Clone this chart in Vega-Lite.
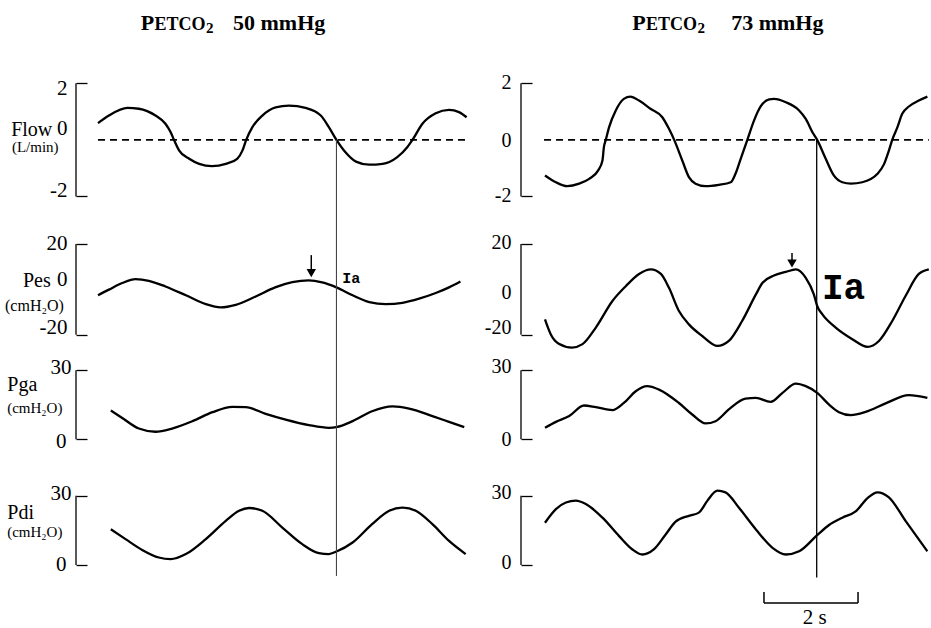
{
"$schema": "https://vega.github.io/schema/vega-lite/v6.json",
"padding": {"left": 5, "top": 11, "right": 0, "bottom": 0},
"background": "white",
"config": {
  "view": {"stroke": null},
  "font": "Liberation Serif",
  "axis": {"labelFont": "Liberation Serif", "labelColor": "black", "grid": false, "domain": false, "tickColor": "black", "tickWidth": 1.3, "tickSize": -11, "labelBaseline": "middle", "labelOverlap": false},
  "line": {"color": "black", "strokeWidth": 2.3, "interpolate": "monotone"},
  "rule": {"color": "black", "strokeWidth": 1.3},
  "text": {"font": "Liberation Serif", "color": "black", "baseline": "alphabetic"}
},
"datasets": {
  "flowL": [{"t":0,"v":0.59},{"t":0.23,"v":0.86},{"t":0.62,"v":1.13},{"t":0.86,"v":1.10},{"t":1.21,"v":0.86},{"t":1.42,"v":0.57},{"t":1.53,"v":0.27},{"t":1.60,"v":0},{"t":1.71,"v":-0.38},{"t":1.92,"v":-0.67},{"t":2.13,"v":-0.85},{"t":2.40,"v":-0.93},{"t":2.69,"v":-0.85},{"t":2.93,"v":-0.67},{"t":3.04,"v":-0.38},{"t":3.12,"v":0},{"t":3.25,"v":0.45},{"t":3.46,"v":0.86},{"t":3.74,"v":1.15},{"t":4.02,"v":1.21},{"t":4.37,"v":1.13},{"t":4.69,"v":0.86},{"t":4.86,"v":0.45},{"t":5.02,"v":0},{"t":5.21,"v":-0.44},{"t":5.43,"v":-0.77},{"t":5.71,"v":-0.88},{"t":5.99,"v":-0.85},{"t":6.30,"v":-0.61},{"t":6.51,"v":-0.26},{"t":6.62,"v":0},{"t":6.83,"v":0.57},{"t":7.11,"v":0.94},{"t":7.39,"v":1.06},{"t":7.60,"v":0.98},{"t":7.76,"v":0.80}],
  "pesL": [{"t":0,"v":-2.6},{"t":0.23,"v":-0.1},{"t":0.51,"v":2.8},{"t":0.79,"v":4.5},{"t":1.07,"v":3.8},{"t":1.42,"v":1.3},{"t":1.85,"v":-2.6},{"t":2.27,"v":-6.5},{"t":2.58,"v":-7.9},{"t":2.90,"v":-6.8},{"t":3.32,"v":-3.1},{"t":3.73,"v":0.9},{"t":4.09,"v":3.2},{"t":4.44,"v":4.0},{"t":4.72,"v":3.1},{"t":5.02,"v":0.9},{"t":5.36,"v":-2.6},{"t":5.71,"v":-5.6},{"t":6.06,"v":-6.5},{"t":6.41,"v":-5.9},{"t":6.76,"v":-4.1},{"t":7.11,"v":-1.6},{"t":7.39,"v":0.9},{"t":7.63,"v":3.5}],
  "pgaL": [{"t":0.27,"v":12.5},{"t":0.51,"v":9.3},{"t":0.86,"v":4.7},{"t":1.21,"v":3.3},{"t":1.56,"v":4.7},{"t":1.99,"v":7.9},{"t":2.41,"v":11.8},{"t":2.83,"v":14.1},{"t":3.11,"v":14.0},{"t":3.53,"v":11.1},{"t":3.95,"v":8.6},{"t":4.44,"v":6.2},{"t":4.86,"v":5.0},{"t":5.02,"v":5.3},{"t":5.36,"v":7.9},{"t":5.77,"v":12.2},{"t":6.20,"v":14.3},{"t":6.55,"v":13.4},{"t":7.04,"v":10.1},{"t":7.39,"v":7.6},{"t":7.71,"v":5.3}],
  "pdiL": [{"t":0.27,"v":15.5},{"t":0.58,"v":11.2},{"t":0.93,"v":6.5},{"t":1.28,"v":3.2},{"t":1.53,"v":2.5},{"t":1.85,"v":4.7},{"t":2.27,"v":11.2},{"t":2.69,"v":19.1},{"t":2.97,"v":23.5},{"t":3.18,"v":24.7},{"t":3.46,"v":23.5},{"t":3.88,"v":16.2},{"t":4.30,"v":9.0},{"t":4.65,"v":5.1},{"t":4.86,"v":4.7},{"t":5.02,"v":5.8},{"t":5.36,"v":9.7},{"t":5.77,"v":17.7},{"t":6.13,"v":23.5},{"t":6.41,"v":24.9},{"t":6.69,"v":23.5},{"t":7.04,"v":17.7},{"t":7.39,"v":10.4},{"t":7.74,"v":4.7}],
  "flowR": [{"t":0,"v":-1.26},{"t":0.23,"v":-1.50},{"t":0.47,"v":-1.64},{"t":0.72,"v":-1.55},{"t":0.93,"v":-1.38},{"t":1.12,"v":-1.08},{"t":1.21,"v":-0.73},{"t":1.24,"v":-0.26},{"t":1.28,"v":0},{"t":1.35,"v":0.45},{"t":1.49,"v":1.04},{"t":1.66,"v":1.45},{"t":1.80,"v":1.53},{"t":1.98,"v":1.39},{"t":2.22,"v":1.10},{"t":2.47,"v":0.80},{"t":2.61,"v":0.39},{"t":2.72,"v":0},{"t":2.89,"v":-0.73},{"t":3.03,"v":-1.32},{"t":3.17,"v":-1.55},{"t":3.38,"v":-1.64},{"t":3.66,"v":-1.59},{"t":3.91,"v":-1.50},{"t":4.01,"v":-1.20},{"t":4.12,"v":-0.67},{"t":4.26,"v":0},{"t":4.40,"v":0.68},{"t":4.54,"v":1.18},{"t":4.72,"v":1.43},{"t":4.82,"v":1.45},{"t":5.07,"v":1.33},{"t":5.35,"v":1.04},{"t":5.49,"v":0.74},{"t":5.63,"v":0.27},{"t":5.73,"v":0},{"t":5.91,"v":-0.67},{"t":6.08,"v":-1.26},{"t":6.26,"v":-1.50},{"t":6.44,"v":-1.55},{"t":6.68,"v":-1.50},{"t":7.00,"v":-1.20},{"t":7.14,"v":-0.85},{"t":7.24,"v":-0.38},{"t":7.31,"v":0},{"t":7.42,"v":0.45},{"t":7.52,"v":0.92},{"t":7.66,"v":1.18},{"t":7.87,"v":1.39},{"t":8.05,"v":1.53}],
  "pesR": [{"t":0,"v":-13.2},{"t":0.12,"v":-19.7},{"t":0.29,"v":-23.9},{"t":0.57,"v":-25.6},{"t":0.79,"v":-24.1},{"t":1.07,"v":-16.8},{"t":1.42,"v":-5.1},{"t":1.70,"v":1.4},{"t":1.98,"v":6.8},{"t":2.23,"v":8.8},{"t":2.44,"v":6.8},{"t":2.61,"v":0.7},{"t":2.82,"v":-9.5},{"t":3.03,"v":-15.4},{"t":3.31,"v":-20.5},{"t":3.63,"v":-24.9},{"t":3.87,"v":-22.7},{"t":4.15,"v":-13.9},{"t":4.44,"v":-2.2},{"t":4.58,"v":2.9},{"t":4.82,"v":6.1},{"t":5.07,"v":7.7},{"t":5.28,"v":8.8},{"t":5.49,"v":5.1},{"t":5.66,"v":-2.2},{"t":5.73,"v":-7.3},{"t":5.84,"v":-11.0},{"t":6.12,"v":-16.8},{"t":6.47,"v":-21.9},{"t":6.79,"v":-25.3},{"t":7.03,"v":-22.7},{"t":7.31,"v":-13.9},{"t":7.59,"v":-2.9},{"t":7.87,"v":6.8},{"t":8.08,"v":8.8}],
  "pgaR": [{"t":0,"v":5.0},{"t":0.23,"v":7.6},{"t":0.51,"v":10.1},{"t":0.82,"v":14.7},{"t":1.07,"v":14.0},{"t":1.42,"v":12.7},{"t":1.66,"v":15.8},{"t":1.91,"v":20.9},{"t":2.15,"v":23.1},{"t":2.40,"v":21.6},{"t":2.82,"v":15.8},{"t":3.10,"v":10.8},{"t":3.38,"v":6.9},{"t":3.59,"v":7.9},{"t":3.87,"v":13.0},{"t":4.22,"v":17.7},{"t":4.44,"v":18.0},{"t":4.75,"v":16.3},{"t":5.00,"v":20.2},{"t":5.28,"v":24.2},{"t":5.49,"v":23.1},{"t":5.73,"v":20.2},{"t":5.98,"v":15.1},{"t":6.19,"v":11.8},{"t":6.44,"v":10.5},{"t":6.75,"v":11.9},{"t":7.17,"v":15.6},{"t":7.66,"v":19.2},{"t":8.05,"v":18.0}],
  "pdiR": [{"t":0,"v":18.3},{"t":0.23,"v":24.2},{"t":0.44,"v":27.1},{"t":0.65,"v":27.9},{"t":0.86,"v":26.4},{"t":1.21,"v":20.5},{"t":1.56,"v":12.5},{"t":1.84,"v":6.7},{"t":2.05,"v":4.5},{"t":2.29,"v":6.7},{"t":2.54,"v":13.2},{"t":2.75,"v":18.8},{"t":3.03,"v":21.3},{"t":3.24,"v":22.7},{"t":3.42,"v":27.9},{"t":3.63,"v":32.2},{"t":3.80,"v":31.5},{"t":4.08,"v":24.9},{"t":4.44,"v":15.4},{"t":4.79,"v":7.4},{"t":5.07,"v":4.5},{"t":5.35,"v":5.9},{"t":5.73,"v":12.9},{"t":5.98,"v":17.3},{"t":6.26,"v":20.5},{"t":6.54,"v":23.2},{"t":6.79,"v":29.0},{"t":7.00,"v":31.5},{"t":7.24,"v":29.3},{"t":7.59,"v":19.1},{"t":8.05,"v":5.9}]
},
"columns": 2,
"spacing": {"row": 0, "column": 37},
"bounds": "flush",
"align": "each",
"concat": [
 {"width": 408, "height": 147, "layer": [
   {"data": {"name": "flowL"}, "mark": {"type": "line"},
    "encoding": {"x": {"field": "t", "type": "quantitative", "scale": {"domain": [-0.463, 8.126], "nice": false, "zero": false}, "axis": null},
                 "y": {"field": "v", "type": "quantitative", "scale": {"domain": [-2.8, 2.4], "nice": false, "zero": false},
                       "axis": {"title": null, "values": [-2, 0, 2], "labelExpr": "'' + datum.value", "labelFontSize": 21, "labelPadding": 20,
                                "tickOpacity": {"condition": {"test": "datum.value === 0", "value": 0}, "value": 1},
                                "labelOffset": {"condition": [{"test": "datum.value === 2", "value": 5}, {"test": "datum.value === 0", "value": -11}], "value": -6}}}}},
   {"data": {"values": [{}]}, "mark": {"type": "rule", "strokeDash": [7, 5], "strokeWidth": 1.8},
    "encoding": {"x": {"datum": 0, "type": "quantitative", "axis": null}, "x2": {"datum": 7.77}, "y": {"datum": 0, "type": "quantitative"}}},
   {"data": {"values": [{}]}, "mark": {"type": "rule"},
    "encoding": {"x": {"datum": -0.463, "type": "quantitative", "axis": null}, "y": {"datum": -2, "type": "quantitative"}, "y2": {"datum": 2}}},
   {"data": {"values": [{}]}, "mark": {"type": "rule", "strokeWidth": 1.1, "color": "#444"},
    "encoding": {"x": {"datum": 5.02, "type": "quantitative", "axis": null}, "y": {"datum": 0, "type": "quantitative"}, "y2": {"datum": -2.8}}},
   {"data": {"values": [{}]}, "mark": {"type": "text", "text": "Flow", "align": "right", "fontSize": 20},
    "encoding": {"x": {"datum": -0.962, "type": "quantitative", "axis": null}, "y": {"datum": 0.136, "type": "quantitative"}}},
   {"data": {"values": [{}]}, "mark": {"type": "text", "text": "(L/min)", "align": "center", "fontSize": 15},
    "encoding": {"x": {"datum": -1.32, "type": "quantitative", "axis": null}, "y": {"datum": -0.42, "type": "quantitative"}}},
   {"data": {"values": [{}]}, "mark": {"type": "text", "text": "P", "align": "left", "fontSize": 22, "fontWeight": "bold"},
    "encoding": {"x": {"datum": 0.899, "type": "quantitative", "axis": null}, "y": {"datum": 3.886, "type": "quantitative"}}},
   {"data": {"values": [{}]}, "mark": {"type": "text", "text": "ETCO", "align": "left", "fontSize": 18, "fontWeight": "bold"},
    "encoding": {"x": {"datum": 1.189, "type": "quantitative", "axis": null}, "y": {"datum": 3.886, "type": "quantitative"}}},
   {"data": {"values": [{}]}, "mark": {"type": "text", "text": "2", "align": "left", "fontSize": 15, "fontWeight": "bold"},
    "encoding": {"x": {"datum": 2.274, "type": "quantitative", "axis": null}, "y": {"datum": 3.78, "type": "quantitative"}}},
   {"data": {"values": [{}]}, "mark": {"type": "text", "text": "50 mmHg", "align": "left", "fontSize": 22, "fontWeight": "bold"},
    "encoding": {"x": {"datum": 2.842, "type": "quantitative", "axis": null}, "y": {"datum": 3.886, "type": "quantitative"}}}
 ]},
 {"width": 408, "height": 147, "layer": [
   {"data": {"name": "flowR"}, "mark": {"type": "line"},
    "encoding": {"x": {"field": "t", "type": "quantitative", "scale": {"domain": [-0.505, 8.084], "nice": false, "zero": false}, "axis": null},
                 "y": {"field": "v", "type": "quantitative", "scale": {"domain": [-2.8, 2.4], "nice": false, "zero": false},
                       "axis": {"title": null, "values": [-2, 0, 2], "labelExpr": "'' + datum.value", "labelFontSize": 20, "labelPadding": 21,
                                "tickOpacity": {"condition": {"test": "datum.value === 0", "value": 0}, "value": 1},
                                "labelOffset": {"condition": [{"test": "datum.value === 2", "value": -1}, {"test": "datum.value === 0", "value": 1}], "value": -1}}}}},
   {"data": {"values": [{}]}, "mark": {"type": "rule", "strokeDash": [7, 5], "strokeWidth": 1.8},
    "encoding": {"x": {"datum": -0.02, "type": "quantitative", "axis": null}, "x2": {"datum": 8.08}, "y": {"datum": 0, "type": "quantitative"}}},
   {"data": {"values": [{}]}, "mark": {"type": "rule"},
    "encoding": {"x": {"datum": -0.505, "type": "quantitative", "axis": null}, "y": {"datum": -2, "type": "quantitative"}, "y2": {"datum": 2}}},
   {"data": {"values": [{}]}, "mark": {"type": "rule", "strokeWidth": 1.3},
    "encoding": {"x": {"datum": 5.72, "type": "quantitative", "axis": null}, "y": {"datum": 0, "type": "quantitative"}, "y2": {"datum": -2.8}}},
   {"data": {"values": [{}]}, "mark": {"type": "text", "text": "P", "align": "left", "fontSize": 22, "fontWeight": "bold"},
    "encoding": {"x": {"datum": 1.838, "type": "quantitative", "axis": null}, "y": {"datum": 3.886, "type": "quantitative"}}},
   {"data": {"values": [{}]}, "mark": {"type": "text", "text": "ETCO", "align": "left", "fontSize": 18, "fontWeight": "bold"},
    "encoding": {"x": {"datum": 2.128, "type": "quantitative", "axis": null}, "y": {"datum": 3.886, "type": "quantitative"}}},
   {"data": {"values": [{}]}, "mark": {"type": "text", "text": "2", "align": "left", "fontSize": 15, "fontWeight": "bold"},
    "encoding": {"x": {"datum": 3.213, "type": "quantitative", "axis": null}, "y": {"datum": 3.78, "type": "quantitative"}}},
   {"data": {"values": [{}]}, "mark": {"type": "text", "text": "73 mmHg", "align": "left", "fontSize": 22, "fontWeight": "bold"},
    "encoding": {"x": {"datum": 3.92, "type": "quantitative", "axis": null}, "y": {"datum": 3.886, "type": "quantitative"}}}
 ]},
 {"width": 408, "height": 134, "layer": [
   {"data": {"name": "pesL"}, "mark": {"type": "line"},
    "encoding": {"x": {"field": "t", "type": "quantitative", "scale": {"domain": [-0.463, 8.126], "nice": false, "zero": false}, "axis": null},
                 "y": {"field": "v", "type": "quantitative", "scale": {"domain": [-28, 31], "nice": false, "zero": false},
                       "axis": {"title": null, "values": [-20, 0, 20], "labelExpr": "'' + datum.value", "labelFontSize": 21, "labelPadding": 20,
                                "tickOpacity": {"condition": {"test": "datum.value === 0", "value": 0}, "value": 1},
                                "labelOffset": {"condition": [{"test": "datum.value === 20", "value": 0}, {"test": "datum.value === 0", "value": -10}], "value": -7}}}}},
   {"data": {"values": [{}]}, "mark": {"type": "rule"},
    "encoding": {"x": {"datum": -0.463, "type": "quantitative", "axis": null}, "y": {"datum": -20, "type": "quantitative"}, "y2": {"datum": 20}}},
   {"data": {"values": [{}]}, "mark": {"type": "rule", "strokeWidth": 1.1, "color": "#444"},
    "encoding": {"x": {"datum": 5.02, "type": "quantitative", "axis": null}, "y": {"datum": 31, "type": "quantitative"}, "y2": {"datum": -28}}},
   {"data": {"values": [{}]}, "mark": {"type": "rule", "strokeWidth": 1.5},
    "encoding": {"x": {"datum": 4.49, "type": "quantitative", "axis": null}, "y": {"datum": 15.1, "type": "quantitative"}, "y2": {"datum": 9.0}}},
   {"data": {"values": [{}]}, "mark": {"type": "point", "shape": "triangle-down", "filled": true, "size": 90, "color": "black", "opacity": 1},
    "encoding": {"x": {"datum": 4.49, "type": "quantitative", "axis": null}, "y": {"datum": 7.2, "type": "quantitative"}}},
   {"data": {"values": [{}]}, "mark": {"type": "text", "text": "Ia", "align": "left", "fontSize": 15, "fontWeight": "bold", "font": "Liberation Mono"},
    "encoding": {"x": {"datum": 5.14, "type": "quantitative", "axis": null}, "y": {"datum": 2.95, "type": "quantitative"}}},
   {"data": {"values": [{}]}, "mark": {"type": "text", "text": "Pes", "align": "right", "fontSize": 20},
    "encoding": {"x": {"datum": -0.996, "type": "quantitative", "axis": null}, "y": {"datum": 1.19, "type": "quantitative"}}},
   {"data": {"values": [{}]}, "mark": {"type": "text", "text": "(cmH₂O)", "align": "center", "fontSize": 16},
    "encoding": {"x": {"datum": -1.337, "type": "quantitative", "axis": null}, "y": {"datum": -9.5, "type": "quantitative"}}}
 ]},
 {"width": 408, "height": 134, "layer": [
   {"data": {"name": "pesR"}, "mark": {"type": "line"},
    "encoding": {"x": {"field": "t", "type": "quantitative", "scale": {"domain": [-0.505, 8.084], "nice": false, "zero": false}, "axis": null},
                 "y": {"field": "v", "type": "quantitative", "scale": {"domain": [-28, 31], "nice": false, "zero": false},
                       "axis": {"title": null, "values": [-20, 0, 20], "labelExpr": "'' + datum.value", "labelFontSize": 20, "labelPadding": 21,
                                "tickOpacity": {"condition": {"test": "datum.value === 0", "value": 0}, "value": 1},
                                "labelOffset": {"condition": [{"test": "datum.value === 20", "value": -1}, {"test": "datum.value === 0", "value": 3}], "value": -7}}}}},
   {"data": {"values": [{}]}, "mark": {"type": "rule"},
    "encoding": {"x": {"datum": -0.505, "type": "quantitative", "axis": null}, "y": {"datum": -20, "type": "quantitative"}, "y2": {"datum": 20}}},
   {"data": {"values": [{}]}, "mark": {"type": "rule", "strokeWidth": 1.3},
    "encoding": {"x": {"datum": 5.72, "type": "quantitative", "axis": null}, "y": {"datum": 31, "type": "quantitative"}, "y2": {"datum": -28}}},
   {"data": {"values": [{}]}, "mark": {"type": "rule", "strokeWidth": 1.5},
    "encoding": {"x": {"datum": 5.2, "type": "quantitative", "axis": null}, "y": {"datum": 16.0, "type": "quantitative"}, "y2": {"datum": 12.9}}},
   {"data": {"values": [{}]}, "mark": {"type": "point", "shape": "triangle-down", "filled": true, "size": 90, "color": "black", "opacity": 1},
    "encoding": {"x": {"datum": 5.2, "type": "quantitative", "axis": null}, "y": {"datum": 11.4, "type": "quantitative"}}},
   {"data": {"values": [{}]}, "mark": {"type": "text", "text": "Ia", "align": "left", "fontSize": 36, "fontWeight": "bold", "font": "Liberation Mono"},
    "encoding": {"x": {"datum": 5.83, "type": "quantitative", "axis": null}, "y": {"datum": -4.2, "type": "quantitative"}}}
 ]},
 {"width": 408, "height": 114, "layer": [
   {"data": {"name": "pgaL"}, "mark": {"type": "line"},
    "encoding": {"x": {"field": "t", "type": "quantitative", "scale": {"domain": [-0.463, 8.126], "nice": false, "zero": false}, "axis": null},
                 "y": {"field": "v", "type": "quantitative", "scale": {"domain": [-12, 37.5], "nice": false, "zero": false},
                       "axis": {"title": null, "values": [0, 30], "labelExpr": "'' + datum.value", "labelFontSize": 21,
                                "labelPadding": {"condition": {"test": "datum.value === 30", "value": 16}, "value": 21},
                                "labelOffset": {"condition": {"test": "datum.value === 30", "value": -3}, "value": 2}}}}},
   {"data": {"values": [{}]}, "mark": {"type": "rule"},
    "encoding": {"x": {"datum": -0.463, "type": "quantitative", "axis": null}, "y": {"datum": 0, "type": "quantitative"}, "y2": {"datum": 30}}},
   {"data": {"values": [{}]}, "mark": {"type": "rule", "strokeWidth": 1.1, "color": "#444"},
    "encoding": {"x": {"datum": 5.02, "type": "quantitative", "axis": null}, "y": {"datum": 37.5, "type": "quantitative"}, "y2": {"datum": -12}}},
   {"data": {"values": [{}]}, "mark": {"type": "text", "text": "Pga", "align": "left", "fontSize": 20},
    "encoding": {"x": {"datum": -1.91, "type": "quantitative", "axis": null}, "y": {"datum": 20.8, "type": "quantitative"}}},
   {"data": {"values": [{}]}, "mark": {"type": "text", "text": "(cmH₂O)", "align": "center", "fontSize": 15},
    "encoding": {"x": {"datum": -1.33, "type": "quantitative", "axis": null}, "y": {"datum": 11.5, "type": "quantitative"}}}
 ]},
 {"width": 408, "height": 114, "layer": [
   {"data": {"name": "pgaR"}, "mark": {"type": "line"},
    "encoding": {"x": {"field": "t", "type": "quantitative", "scale": {"domain": [-0.505, 8.084], "nice": false, "zero": false}, "axis": null},
                 "y": {"field": "v", "type": "quantitative", "scale": {"domain": [-12, 37.5], "nice": false, "zero": false},
                       "axis": {"title": null, "values": [0, 30], "labelExpr": "'' + datum.value", "labelFontSize": 20, "labelPadding": 21,
                                "labelOffset": {"condition": {"test": "datum.value === 30", "value": -4}, "value": 0}}}}},
   {"data": {"values": [{}]}, "mark": {"type": "rule"},
    "encoding": {"x": {"datum": -0.505, "type": "quantitative", "axis": null}, "y": {"datum": 0, "type": "quantitative"}, "y2": {"datum": 30}}},
   {"data": {"values": [{}]}, "mark": {"type": "rule", "strokeWidth": 1.3},
    "encoding": {"x": {"datum": 5.72, "type": "quantitative", "axis": null}, "y": {"datum": 37.5, "type": "quantitative"}, "y2": {"datum": -12}}}
 ]},
 {"width": 408, "height": 114, "layer": [
   {"data": {"name": "pdiL"}, "mark": {"type": "line"},
    "encoding": {"x": {"field": "t", "type": "quantitative", "scale": {"domain": [-0.463, 8.126], "nice": false, "zero": false}, "axis": null},
                 "y": {"field": "v", "type": "quantitative", "scale": {"domain": [-7, 42.5], "nice": false, "zero": false},
                       "axis": {"title": null, "values": [0, 30], "labelExpr": "'' + datum.value", "labelFontSize": 21,
                                "labelPadding": {"condition": {"test": "datum.value === 30", "value": 16}, "value": 21},
                                "labelOffset": {"condition": {"test": "datum.value === 30", "value": -2}, "value": 0}}}}},
   {"data": {"values": [{}]}, "mark": {"type": "rule"},
    "encoding": {"x": {"datum": -0.463, "type": "quantitative", "axis": null}, "y": {"datum": 0, "type": "quantitative"}, "y2": {"datum": 30}}},
   {"data": {"values": [{}]}, "mark": {"type": "rule", "strokeWidth": 1.1, "color": "#444"},
    "encoding": {"x": {"datum": 5.02, "type": "quantitative", "axis": null}, "y": {"datum": 42.5, "type": "quantitative"}, "y2": {"datum": -4.8}}},
   {"data": {"values": [{}]}, "mark": {"type": "text", "text": "Pdi", "align": "left", "fontSize": 20},
    "encoding": {"x": {"datum": -1.91, "type": "quantitative", "axis": null}, "y": {"datum": 19.9, "type": "quantitative"}}},
   {"data": {"values": [{}]}, "mark": {"type": "text", "text": "(cmH₂O)", "align": "center", "fontSize": 15},
    "encoding": {"x": {"datum": -1.33, "type": "quantitative", "axis": null}, "y": {"datum": 12.1, "type": "quantitative"}}}
 ]},
 {"width": 408, "height": 114, "layer": [
   {"data": {"name": "pdiR"}, "mark": {"type": "line"},
    "encoding": {"x": {"field": "t", "type": "quantitative", "scale": {"domain": [-0.505, 8.084], "nice": false, "zero": false}, "axis": null},
                 "y": {"field": "v", "type": "quantitative", "scale": {"domain": [-7, 42.5], "nice": false, "zero": false},
                       "axis": {"title": null, "values": [0, 30], "labelExpr": "'' + datum.value", "labelFontSize": 20, "labelPadding": 21,
                                "labelOffset": {"condition": {"test": "datum.value === 30", "value": -3}, "value": -2}}}}},
   {"data": {"values": [{}]}, "mark": {"type": "rule"},
    "encoding": {"x": {"datum": -0.505, "type": "quantitative", "axis": null}, "y": {"datum": 0, "type": "quantitative"}, "y2": {"datum": 30}}},
   {"data": {"values": [{}]}, "mark": {"type": "rule", "strokeWidth": 1.3},
    "encoding": {"x": {"datum": 5.72, "type": "quantitative", "axis": null}, "y": {"datum": 42.5, "type": "quantitative"}, "y2": {"datum": -5.5}}},
   {"data": {"values": [{}]}, "mark": {"type": "rule", "strokeWidth": 1.5},
    "encoding": {"x": {"datum": 4.61, "type": "quantitative", "axis": null}, "x2": {"datum": 6.59}, "y": {"datum": -16.5, "type": "quantitative"}}},
   {"data": {"values": [{}]}, "mark": {"type": "rule", "strokeWidth": 1.5},
    "encoding": {"x": {"datum": 4.61, "type": "quantitative", "axis": null}, "y": {"datum": -16.5, "type": "quantitative"}, "y2": {"datum": -11.8}}},
   {"data": {"values": [{}]}, "mark": {"type": "rule", "strokeWidth": 1.5},
    "encoding": {"x": {"datum": 6.59, "type": "quantitative", "axis": null}, "y": {"datum": -16.5, "type": "quantitative"}, "y2": {"datum": -11.8}}},
   {"data": {"values": [{}]}, "mark": {"type": "text", "text": "2 s", "align": "center", "fontSize": 21},
    "encoding": {"x": {"datum": 5.68, "type": "quantitative", "axis": null}, "y": {"datum": -25.7, "type": "quantitative"}}}
 ]}
]
}
